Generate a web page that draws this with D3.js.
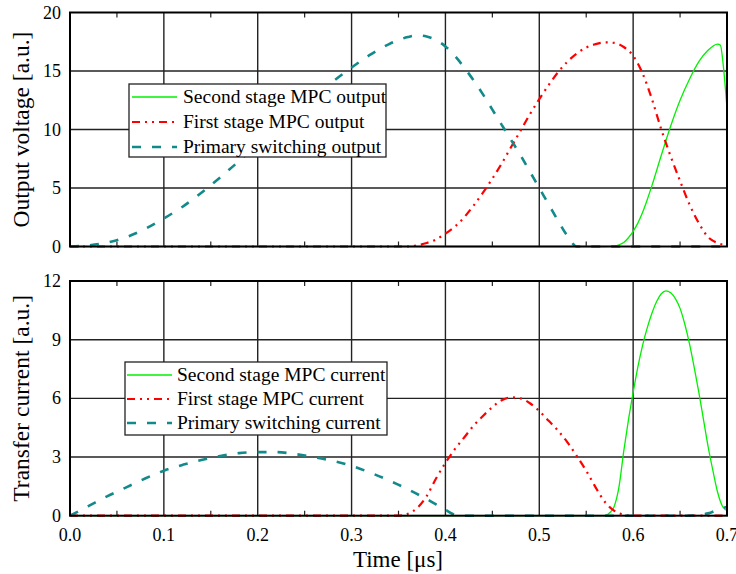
<!DOCTYPE html>
<html><head><meta charset="utf-8">
<script src="https://cdn.jsdelivr.net/npm/d3@7"></script>
<style>body{margin:0;background:#fff}svg{display:block}text{font-family:"Liberation Serif","Times New Roman",serif;fill:#000}</style>
</head><body><svg id="c" width="736" height="574"></svg>
<script>
// ---------- data ----------
const xTicks = [0,0.1,0.2,0.3,0.4,0.5,0.6,0.7];
const xTickLabels = ["0.0","0.1","0.2","0.3","0.4","0.5","0.6","0.7"];
const topYTicks = [0,5,10,15,20];
const botYTicks = [0,3,6,9,12];

// Top panel: output voltage
const vPrimT = [0,0.02,0.04,0.06,0.08,0.10,0.12,0.14,0.16,0.18,0.20,0.22,0.24,0.26,0.28,0.30,0.32,0.34,0.36,0.37,0.38,0.39,0.40,0.41,0.42,0.43,0.44,0.45,0.46,0.47,0.48,0.49,0.50,0.51,0.52,0.53,0.54,0.60,0.70];
const vPrimV = [0,0.1,0.35,0.8,1.5,2.4,3.4,4.6,5.9,7.3,8.7,10.1,11.5,12.8,14.1,15.3,16.4,17.3,17.9,18.05,17.95,17.65,17.1,16.3,15.3,14.2,13.0,11.7,10.4,9.1,7.8,6.4,5.0,3.6,2.2,0.9,0,0,0];
const vFirstT = [0,0.1,0.2,0.3,0.36,0.37,0.38,0.39,0.40,0.41,0.42,0.43,0.44,0.45,0.46,0.47,0.48,0.49,0.50,0.51,0.52,0.53,0.54,0.55,0.56,0.57,0.58,0.59,0.60,0.61,0.62,0.63,0.64,0.65,0.66,0.67,0.68,0.69,0.70];
const vFirstV = [0,0,0,0,0,0.1,0.3,0.6,1.1,1.7,2.5,3.5,4.6,5.8,7.1,8.5,9.9,11.3,12.6,13.8,14.9,15.8,16.5,17.0,17.3,17.45,17.4,17.05,16.3,14.8,12.6,10.0,7.7,5.6,3.6,2.0,0.8,0.3,0.1];
const vSecondT = [0,0.1,0.2,0.3,0.4,0.5,0.57,0.58,0.585,0.59,0.595,0.60,0.605,0.61,0.615,0.62,0.63,0.64,0.65,0.66,0.67,0.68,0.69,0.693,0.696,0.70];
const vSecondV = [0,0,0,0,0,0,0,0.05,0.15,0.35,0.75,1.3,2.0,2.9,4.0,5.2,7.8,10.3,12.5,14.3,15.8,16.8,17.3,17.2,15.5,11.8];

// Bottom panel: transfer current
const iPrimT = [0,0.02,0.04,0.06,0.08,0.10,0.12,0.14,0.16,0.18,0.20,0.22,0.24,0.26,0.28,0.30,0.32,0.34,0.36,0.38,0.40,0.41,0.42,0.50,0.60,0.66,0.67,0.68,0.69,0.70];
const iPrimV = [0,0.5,1.0,1.45,1.9,2.3,2.6,2.85,3.05,3.2,3.25,3.25,3.15,3.0,2.8,2.55,2.2,1.8,1.35,0.85,0.3,0.05,0,0,0,0,0.05,0.12,0.3,0.45];
const iFirstT = [0,0.1,0.2,0.3,0.35,0.36,0.37,0.38,0.39,0.40,0.41,0.42,0.43,0.44,0.45,0.46,0.47,0.48,0.49,0.50,0.51,0.52,0.53,0.54,0.55,0.56,0.57,0.58,0.59,0.60,0.65,0.70];
const iFirstV = [0,0,0,0,0,0.1,0.4,1.0,1.9,2.7,3.4,4.0,4.6,5.1,5.55,5.9,6.05,6.0,5.75,5.35,4.85,4.35,3.75,3.05,2.3,1.45,0.7,0.25,0.05,0,0,0];
const iSecondT = [0,0.1,0.2,0.3,0.4,0.5,0.57,0.575,0.58,0.585,0.59,0.595,0.60,0.605,0.61,0.615,0.62,0.625,0.63,0.635,0.64,0.645,0.65,0.655,0.66,0.665,0.67,0.675,0.68,0.685,0.69,0.695,0.70];
const iSecondV = [0,0,0,0,0,0,0,0.15,0.5,1.5,3.3,4.9,6.3,7.6,8.7,9.6,10.35,10.95,11.35,11.5,11.4,11.1,10.6,9.8,8.8,7.6,6.3,4.9,3.5,2.3,1.2,0.5,0.25];

const topLegend = ["Second stage MPC output","First stage MPC output","Primary switching output"];
const botLegend = ["Second stage MPC current","First stage MPC current","Primary switching current"];

// ---------- styles ----------
const styles = [
  {color:"#00f000", width:1.3, dash:null},
  {color:"#ff0000", width:2.2, dash:"8,5,2,5,2,5"},
  {color:"#138a8a", width:2.6, dash:"9,11"}
];

const svg = d3.select("#c");
const x = d3.scaleLinear().domain([0,0.7]).range([70,727]);

function panel(y0, y1, ymax, yTicks, series, legend, lg, ylabel){
  const y = d3.scaleLinear().domain([0,ymax]).range([y1,y0]);
  const g = svg.append("g");
  g.selectAll(".vg").data(xTicks.slice(1,-1)).enter().append("line")
    .attr("x1",d=>x(d)).attr("x2",d=>x(d)).attr("y1",y0).attr("y2",y1)
    .attr("stroke","#222").attr("stroke-width",1.4);
  g.selectAll(".hg").data(yTicks.slice(1,-1)).enter().append("line")
    .attr("x1",70).attr("x2",727).attr("y1",d=>y(d)).attr("y2",d=>y(d))
    .attr("stroke","#222").attr("stroke-width",1.4);
  const minor = d3.range(0.05,0.7,0.1);
  minor.forEach(m=>{
    g.append("line").attr("x1",x(m)).attr("x2",x(m)).attr("y1",y1).attr("y2",y1-5).attr("stroke","#222").attr("stroke-width",1.2);
    g.append("line").attr("x1",x(m)).attr("x2",x(m)).attr("y1",y0).attr("y2",y0+5).attr("stroke","#222").attr("stroke-width",1.2);
  });
  g.selectAll(".yl").data(yTicks).enter().append("text")
    .attr("x",61).attr("y",d=>y(d)+6).attr("text-anchor","end")
    .attr("font-size",18).text(d=>d);
  g.append("text").attr("transform",`translate(29,${(y0+y1)/2}) rotate(-90)`)
    .attr("text-anchor","middle").attr("font-size",23.5).text(ylabel);
  [0,1,2].forEach(i=>{
    const s = series[i];
    const line = d3.line().x(d=>x(d[0])).y(d=>y(d[1])).curve(d3.curveMonotoneX);
    const pts = s.t.map((t,k)=>[t,s.v[k]]);
    const p = g.append("path").attr("d",line(pts)).attr("fill","none")
      .attr("stroke",styles[i].color).attr("stroke-width",styles[i].width);
    if(styles[i].dash) p.attr("stroke-dasharray",styles[i].dash);
  });
  g.append("rect").attr("x",70).attr("y",y0).attr("width",657).attr("height",y1-y0)
    .attr("fill","none").attr("stroke","#000").attr("stroke-width",2);
  g.append("rect").attr("x",lg.x).attr("y",lg.y).attr("width",lg.w).attr("height",lg.h)
    .attr("fill","#fff").attr("stroke","#222").attr("stroke-width",1.3);
  legend.forEach((txt,i)=>{
    const ry = lg.rows[i];
    const l = g.append("line").attr("x1",lg.lx1).attr("x2",lg.lx2).attr("y1",ry).attr("y2",ry)
      .attr("stroke",styles[i].color).attr("stroke-width",styles[i].width);
    if(styles[i].dash) l.attr("stroke-dasharray",styles[i].dash);
    g.append("text").attr("x",lg.tx).attr("y",ry+6).attr("font-size",19.5).text(txt);
  });
  return y;
}

panel(12.5, 246.5, 20, topYTicks,
  [{t:vSecondT,v:vSecondV},{t:vFirstT,v:vFirstV},{t:vPrimT,v:vPrimV}],
  topLegend, {x:129,y:84,w:257,h:73,rows:[97,122,147],lx1:132,lx2:177,tx:183}, "Output voltage [a.u.]");

panel(281, 515.7, 12, botYTicks,
  [{t:iSecondT,v:iSecondV},{t:iFirstT,v:iFirstV},{t:iPrimT,v:iPrimV}],
  botLegend, {x:125,y:362,w:262,h:73,rows:[375,399,423],lx1:127,lx2:172,tx:177}, "Transfer current [a.u.]");

svg.selectAll(".xl").data(xTicks).enter().append("text")
  .attr("x",d=>x(d)).attr("y",541).attr("text-anchor","middle").attr("font-size",18)
  .text((d,i)=>xTickLabels[i]);
svg.append("text").attr("x",398).attr("y",567).attr("text-anchor","middle").attr("font-size",23).text("Time [μs]");
</script></body></html>
